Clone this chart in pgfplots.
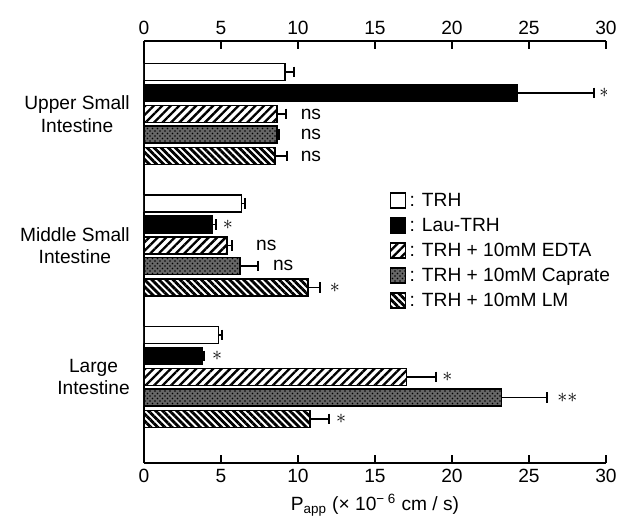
\documentclass[border=0pt]{standalone}
\usepackage{fontspec}
\setmainfont{Liberation Sans}
\usepackage{pgfplots}
\pgfplotsset{compat=1.18}
\usetikzlibrary{patterns,patterns.meta}

\newcommand{\lab}{\fontsize{11.5}{13.5}\selectfont}

\begin{document}
\begin{tikzpicture}
\path[use as bounding box] (-86.4pt,-40.8pt) rectangle (288.6pt,277.8pt);
\begin{axis}[
  scale only axis, width=277.2pt, height=253.2pt,
  xmin=0, xmax=30, ymin=-0.654, ymax=2.555,
  axis x line*=bottom, axis y line*=left,
  axis line style={line width=1.3pt,-},
  xtick={0,5,...,30}, tick align=inside, major tick length=5pt,
  tick style={line width=1.5pt,black},
  ytick={0,1,2},
  yticklabels={Large\\Intestine,Middle Small\\Intestine,Upper Small\\Intestine},
  ytick style={draw=none},
  yticklabel style={align=center},
  tick label style={font=\lab},
  /pgf/number format/assume math mode=true,
  xlabel={P\textsubscript{app} (× 10\textsuperscript{− 6} cm / s)},
  xlabel style={font=\lab},
  xbar, bar width=10.2pt, bar shift=0pt,
  every axis plot/.append style={draw=black,line width=1pt},
  error bars/x dir=plus, error bars/x explicit,
  error bars/error mark=|,
  error bars/error bar style={line width=0.8pt,solid,black},
  error bars/error mark options={line width=1.2pt,mark size=3.2pt,solid,black},
  legend style={draw=none,fill=none,at={(0.52,0.655)},anchor=north west,
    font=\lab,row sep=1.5pt},
  legend cell align=left,
  legend image code/.code={\draw[#1,line width=1pt] (0pt,-4pt) rectangle (9pt,5pt);},
]
% TRH
\addplot[fill=white] coordinates {(9.16,2.32) +- (0.6,0) (6.34,1.32) +- (0.22,0) (4.83,0.32) +- (0.22,0)};
% Lau-TRH
\addplot[fill=black] coordinates {(24.26,2.16) +- (4.94,0) (4.40,1.16) +- (0.28,0) (3.75,0.16) +- (0.15,0)};
% TRH + EDTA
\addplot[fill=white,pattern={Lines[angle=45,distance=3.6pt,line width=1.4pt]}] coordinates {(8.62,2.0) +- (0.58,0) (5.37,1.0) +- (0.32,0) (17.05,0.0) +- (1.91,0)};
% TRH + Caprate
\addplot[fill=black!60,postaction={pattern=crosshatch dots}] coordinates {(8.62,1.845) +- (0.12,0) (6.23,0.845) +- (1.19,0) (23.22,-0.155) +- (2.93,0)};
% TRH + LM
\addplot[fill=white,pattern={Lines[angle=-45,distance=3pt,line width=1.7pt]}] coordinates {(8.5,1.68) +- (0.77,0) (10.67,0.68) +- (0.76,0) (10.78,-0.32) +- (1.22,0)};
\legend{: TRH,: Lau-TRH,: TRH + 10mM EDTA,: TRH + 10mM Caprate,: TRH + 10mM LM}

\begin{scope}[font=\lab]
\node at (axis cs:29.9,2.16) {$\ast$};
\node[anchor=west] at (axis cs:9.8,2.0) {ns};
\node[anchor=west] at (axis cs:9.8,1.845) {ns};
\node[anchor=west] at (axis cs:9.8,1.68) {ns};
\node at (axis cs:5.45,1.16) {$\ast$};
\node[anchor=west] at (axis cs:6.9,1.0) {ns};
\node[anchor=west] at (axis cs:8.0,0.845) {ns};
\node at (axis cs:12.4,0.68) {$\ast$};
\node at (axis cs:4.75,0.16) {$\ast$};
\node at (axis cs:19.7,0.0) {$\ast$};
\node at (axis cs:27.5,-0.155) {$\ast\ast$};
\node at (axis cs:12.8,-0.32) {$\ast$};
\end{scope}
\end{axis}
\begin{axis}[
  scale only axis, width=277.2pt, height=253.2pt,
  xmin=0, xmax=30, ymin=-0.654, ymax=2.555,
  axis x line*=top, axis y line=none,
  axis line style={line width=1.3pt,-},
  xtick={0,5,...,30}, tick align=inside, major tick length=5pt,
  tick style={line width=1.5pt,black},
  tick label style={font=\lab},
  /pgf/number format/assume math mode=true,
]
\end{axis}
\end{tikzpicture}
\end{document}
